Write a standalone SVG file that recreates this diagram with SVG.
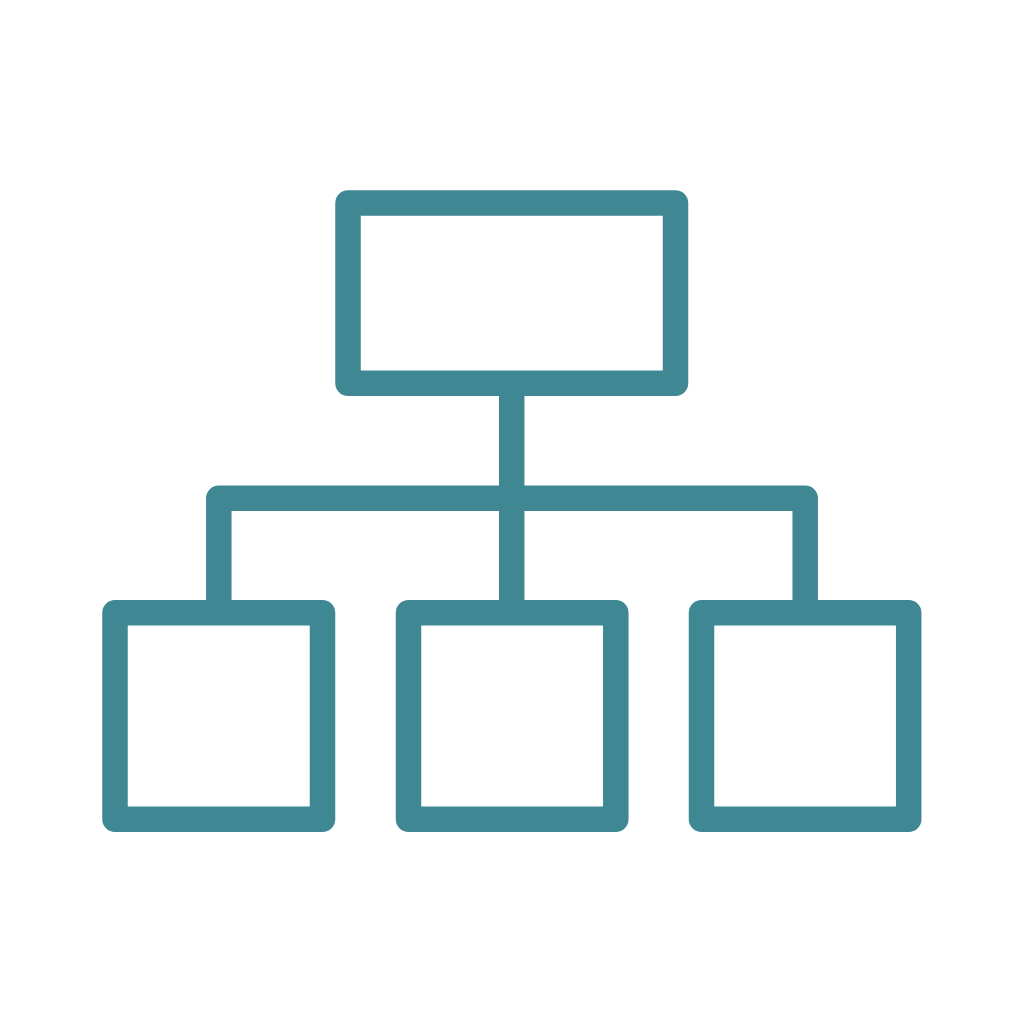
<svg xmlns="http://www.w3.org/2000/svg" width="1024" height="1024" viewBox="0 0 1024 1024">
  <style>
    .box { fill: none; stroke: #3e8793; stroke-width: 25.5; stroke-linejoin: round; }
    .conn { fill: none; stroke: #3e8793; stroke-width: 25.5; stroke-linejoin: round; stroke-linecap: butt; }
  </style>
  <rect width="1024" height="1024" fill="#ffffff"/>
  <g id="connectors">
    <path class="conn" d="M511.7,383 V612"/>
    <path class="conn" d="M218.8,612 V498.2 H805.2 V612"/>
  </g>
  <g id="root">
    <rect class="box" x="348" y="203" width="327.5" height="180.2"/>
  </g>
  <g id="child1">
    <rect class="box" x="115" y="612.7" width="207.5" height="206.6"/>
  </g>
  <g id="child2">
    <rect class="box" x="408.5" y="612.7" width="207.3" height="206.6"/>
  </g>
  <g id="child3">
    <rect class="box" x="701.5" y="612.7" width="207.2" height="206.6"/>
  </g>
</svg>
